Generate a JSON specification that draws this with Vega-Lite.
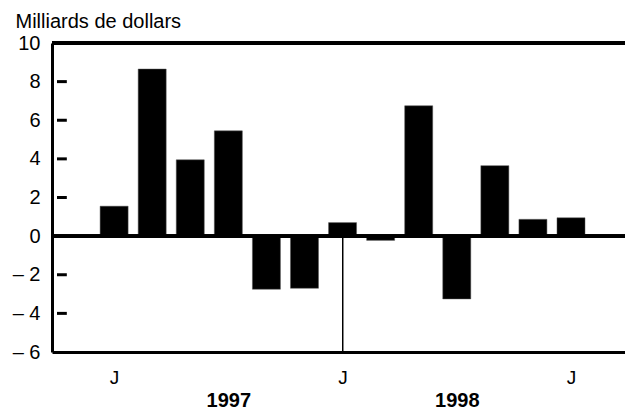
{
  "$schema": "https://vega.github.io/schema/vega-lite/v6.json",
  "autosize": "none",
  "width": 573,
  "height": 309,
  "padding": {"left": 52, "top": 43, "right": 0, "bottom": 58},
  "background": "white",
  "config": {
    "view": {"stroke": null},
    "font": "Liberation Sans",
    "axis": {"grid": false, "labelColor": "black", "domainColor": "black", "tickColor": "black", "labelOverlap": false, "labelFlush": false},
    "axisX": {
      "ticks": false,
      "domainWidth": 3,
      "labelLineHeight": 22,
      "labelPadding": 16,
      "labelBaseline": "top",
      "labelFontSize": 19
    }
  },
  "resolve": {"axis": {"y": "independent"}},
  "datasets": {
    "graduations": [{"g": -4}, {"g": -2}, {"g": 0}, {"g": 2}, {"g": 4}, {"g": 6}, {"g": 8}]
  },
  "data": {
    "values": [
      {"i": 1, "mois": "1997-07", "valeur": 1.55},
      {"i": 2, "mois": "1997-08", "valeur": 8.65},
      {"i": 3, "mois": "1997-09", "valeur": 3.95},
      {"i": 4, "mois": "1997-10", "valeur": 5.45},
      {"i": 5, "mois": "1997-11", "valeur": -2.75},
      {"i": 6, "mois": "1997-12", "valeur": -2.7},
      {"i": 7, "mois": "1998-01", "valeur": 0.7},
      {"i": 8, "mois": "1998-02", "valeur": -0.22},
      {"i": 9, "mois": "1998-03", "valeur": 6.75},
      {"i": 10, "mois": "1998-04", "valeur": -3.25},
      {"i": 11, "mois": "1998-05", "valeur": 3.65},
      {"i": 12, "mois": "1998-06", "valeur": 0.87},
      {"i": 13, "mois": "1998-07", "valeur": 0.95}
    ]
  },
  "layer": [
    {
      "mark": {"type": "bar", "color": "black", "size": 28, "stroke": "#555", "strokeWidth": 0.5},
      "encoding": {
        "x": {
          "field": "i",
          "type": "quantitative",
          "scale": {"domain": [-0.5, 14.287], "nice": false, "zero": false},
          "axis": {
            "values": [1, 4, 7, 10, 13],
            "title": null,
            "labelExpr": "datum.value == 4 ? ['', '1997'] : datum.value == 10 ? ['', '1998'] : 'J'",
            "labelFontSize": {"condition": {"test": "datum.value == 4 || datum.value == 10", "value": 20}, "value": 19},
            "labelFontWeight": {"condition": {"test": "datum.value == 4 || datum.value == 10", "value": "bold"}, "value": "normal"}
          }
        },
        "y": {
          "field": "valeur",
          "type": "quantitative",
          "scale": {"domain": [-6, 10], "nice": false},
          "axis": {
            "orient": "left",
            "values": [-6, -4, -2, 0, 2, 4, 6, 8, 10],
            "labelExpr": "datum.value < 0 ? '– ' + abs(datum.value) : '' + datum.value",
            "ticks": false,
            "domain": true,
            "domainWidth": 3,
            "labelFontSize": 20,
            "labelPadding": 12,
            "labelOverlap": false,
            "title": "Milliards de dollars",
            "titleAngle": 0,
            "titleAlign": "left",
            "titleBaseline": "alphabetic",
            "titleX": -37,
            "titleY": -16,
            "titleFontSize": 20,
            "titleFontWeight": "normal",
            "titleColor": "black"
          }
        }
      }
    },
    {
      "data": {"name": "graduations"},
      "mark": {"type": "rule", "color": "black", "strokeWidth": 3},
      "encoding": {
        "x": {"datum": -0.5},
        "x2": {"datum": -0.242},
        "y": {"field": "g", "type": "quantitative", "axis": null}
      }
    },
    {
      "mark": {"type": "rule", "color": "black", "strokeWidth": 3},
      "encoding": {"y": {"datum": 0, "type": "quantitative", "axis": null}}
    },
    {
      "mark": {"type": "rule", "color": "black", "strokeWidth": 3},
      "encoding": {"y": {"datum": 10, "type": "quantitative", "axis": null}}
    },
    {
      "mark": {"type": "rule", "color": "black", "strokeWidth": 1},
      "encoding": {"x": {"datum": 7}, "y": {"datum": 0, "type": "quantitative", "axis": null}, "y2": {"datum": -6}}
    }
  ]
}
